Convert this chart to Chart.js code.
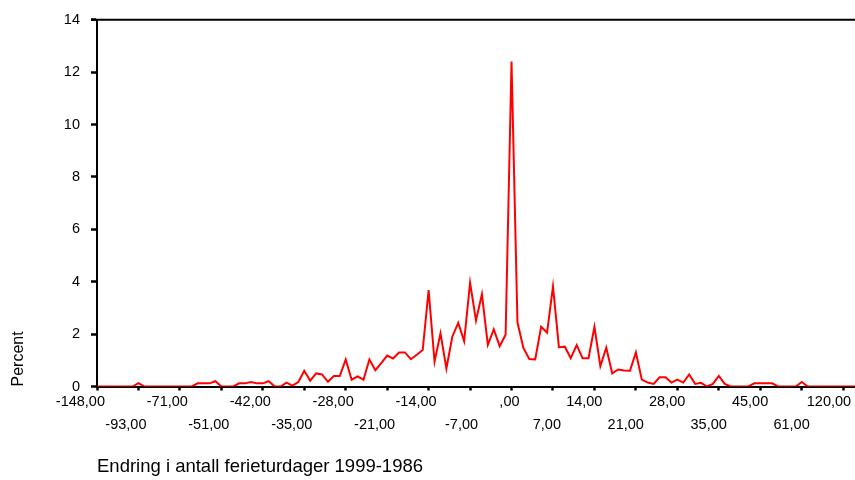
<!DOCTYPE html>
<html>
<head>
<meta charset="utf-8">
<script src="https://cdn.jsdelivr.net/npm/chart.js@4.4.0/dist/chart.umd.min.js"></script>
<style>
  body { margin: 0; background: #fff; }
  canvas { display: block; }
</style>
</head>
<body>
<canvas id="chart" width="855" height="480"></canvas>
<script>
// change in number of holiday trips, 1999 vs 1986 (category axis)
const categories = [
  -148, -140, -130, -121, -112, -105, -100, -93,
  -90, -86, -84, -80, -77, -74, -71,
  -68, -65, -62, -60, -57, -54, -51,
  -50, -49, -47, -46, -45, -44, -42,
  -41, -40, -39, -38, -37, -36, -35,
  -34, -33, -32, -31, -30, -29, -28, -27, -26, -25, -24, -23, -22, -21,
  -20, -19, -18, -17, -16, -15, -14, -13, -12, -11, -10, -9, -8, -7,
  -6, -5, -4, -3, -2, -1, 0, 1, 2, 3, 4, 5, 6, 7,
  8, 9, 10, 11, 12, 13, 14, 15, 16, 17, 18, 19, 20, 21,
  22, 23, 24, 25, 26, 27, 28, 29, 30, 31, 32, 33, 34, 35,
  36, 37, 38, 39, 40, 42, 45,
  47, 49, 50, 52, 55, 58, 61,
  63, 70, 75, 84, 90, 100, 120,
  150, 180
];

// percent of respondents
const percent = [
  0, 0, 0, 0, 0, 0, 0, 0.13,
  0, 0, 0, 0, 0, 0, 0,
  0, 0, 0.12, 0.12, 0.12, 0.2, 0,
  0, 0, 0.12, 0.12, 0.17, 0.12, 0.12,
  0.2, 0, 0, 0.15, 0.03, 0.17, 0.6,
  0.22, 0.5, 0.46, 0.18, 0.4, 0.4, 1.03, 0.26, 0.39, 0.26, 1.03, 0.62, 0.89, 1.18,
  1.07, 1.3, 1.3, 1.04, 1.21, 1.39, 3.68, 0.95, 2.03, 0.69, 1.9, 2.43, 1.73, 3.96,
  2.52, 3.52, 1.59, 2.18, 1.54, 1.98, 12.4, 2.45, 1.47, 1.05, 1.03, 2.28, 2.06, 3.82,
  1.5, 1.52, 1.08, 1.58, 1.08, 1.08, 2.28, 0.78, 1.48, 0.5, 0.65, 0.61, 0.6, 1.3,
  0.26, 0.15, 0.1, 0.35, 0.35, 0.15, 0.26, 0.15, 0.46, 0.1, 0.14, 0, 0.1, 0.4,
  0.1, 0, 0, 0, 0, 0.12, 0.12,
  0.12, 0.12, 0, 0, 0, 0, 0.17,
  0, 0, 0, 0, 0, 0, 0,
  0, 0
];

const yTicks = [0, 2, 4, 6, 8, 10, 12, 14];
const labelEvery = 7;

// SPSS style: 2 decimals, comma, no leading zero for 0
function fmt(v) {
  let s = v.toFixed(2).replace('.', ',');
  if (s === '0,00') s = ',00';
  return s;
}

// top frame line
const frameTop = {
  id: 'frameTop',
  afterDraw(chart) {
    const { ctx, chartArea } = chart;
    ctx.save();
    ctx.strokeStyle = '#000';
    ctx.lineWidth = 2;
    ctx.beginPath();
    ctx.moveTo(chartArea.left - 6, chartArea.top);
    ctx.lineTo(chartArea.right, chartArea.top);
    ctx.stroke();
    ctx.restore();
  }
};

Chart.defaults.font.family = '"Liberation Sans", Arial, sans-serif';
Chart.defaults.color = '#000';

new Chart(document.getElementById('chart'), {
  type: 'line',
  data: {
    labels: categories,
    datasets: [{
      data: percent,
      borderColor: '#ff0000',
      borderWidth: 2,
      pointRadius: 0,
      tension: 0,
      fill: false
    }]
  },
  options: {
    responsive: false,
    animation: false,
    layout: { padding: { top: 19, left: 0, right: 0, bottom: 0 } },
    plugins: {
      legend: { display: false },
      tooltip: { enabled: false }
    },
    scales: {
      x: {
        type: 'category',
        offset: false,
        border: { display: true, color: '#000', width: 2 },
        grid: {
          display: true,
          drawOnChartArea: false,
          drawTicks: true,
          tickLength: 4,
          tickWidth: 2.5,
          tickColor: c => (c.index % labelEvery === 0 ? '#000' : 'rgba(0,0,0,0)')
        },
        ticks: {
          autoSkip: false,
          maxRotation: 0,
          minRotation: 0,
          align: 'end',
          labelOffset: 8,
          padding: 0,
          font: { size: 14.5, lineHeight: '23px' },
          callback: function (value, index) {
            if (index % labelEvery !== 0) return '';
            const txt = fmt(categories[index]);
            return (index / labelEvery) % 2 === 0 ? txt : ['', txt];
          }
        },
        title: {
          display: true,
          text: 'Endring i antall ferieturdager 1999-1986',
          align: 'start',
          font: { size: 18.5 },
          padding: { top: 0, bottom: 2 }
        },
        afterFit(scale) { scale.height = 93.5; }
      },
      y: {
        min: 0,
        max: 14,
        border: { display: true, color: '#000', width: 2 },
        grid: {
          display: true,
          drawOnChartArea: false,
          drawTicks: true,
          tickLength: 6,
          tickWidth: 2.5,
          tickColor: '#000'
        },
        afterBuildTicks(scale) {
          scale.ticks = yTicks.map(v => ({ value: v }));
        },
        ticks: {
          padding: 11,
          font: { size: 14.5 },
          callback: v => String(v)
        },
        title: {
          display: true,
          text: 'Percent',
          align: 'start',
          font: { size: 16 },
          padding: { top: 9, bottom: 0 }
        },
        afterFit(scale) { scale.width = 97; }
      }
    }
  },
  plugins: [frameTop]
});
</script>
</body>
</html>
